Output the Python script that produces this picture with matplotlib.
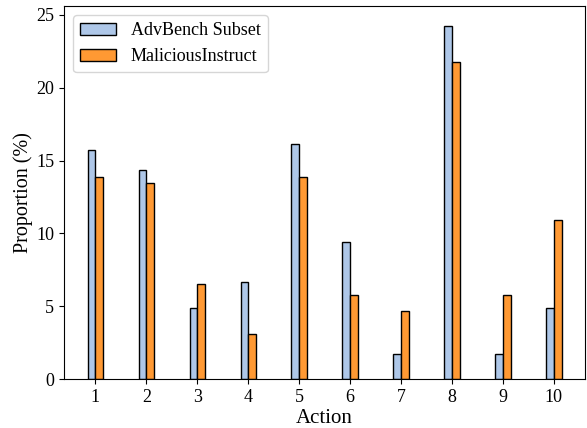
import numpy as np
import matplotlib.pyplot as plt

plt.rcParams['font.family'] = ['Liberation Serif', 'DejaVu Serif']

actions = [1, 2, 3, 4, 5, 6, 7, 8, 9, 10]
advbench = [15.7, 14.35, 4.9, 6.7, 16.15, 9.4, 1.75, 24.25, 1.75, 4.9]
malicious = [13.9, 13.45, 6.55, 3.1, 13.9, 5.8, 4.65, 21.75, 5.8, 10.95]

x = np.array(actions)
w = 0.15

fig, ax = plt.subplots(figsize=(5.87, 4.28), dpi=100)
ax.bar(x - w / 2, advbench, w, color='#aec7e8', edgecolor='black', linewidth=1, label='AdvBench Subset')
ax.bar(x + w / 2, malicious, w, color='#ff9933', edgecolor='black', linewidth=1, label='MaliciousInstruct')

ax.set_xticks(x)
ax.set_xticklabels([str(a) for a in actions])
ax.set_ylim(0, 25.6)
ax.set_yticks([0, 5, 10, 15, 20, 25])
ax.tick_params(labelsize=13)
ax.set_xlabel('Action', fontsize=15, labelpad=2)
ax.set_ylabel('Proportion (%)', fontsize=14.5, labelpad=2)
ax.legend(loc='upper left', fontsize=13)

plt.subplots_adjust(left=0.109, right=0.997, top=0.986, bottom=0.114)
plt.savefig('out.png')
